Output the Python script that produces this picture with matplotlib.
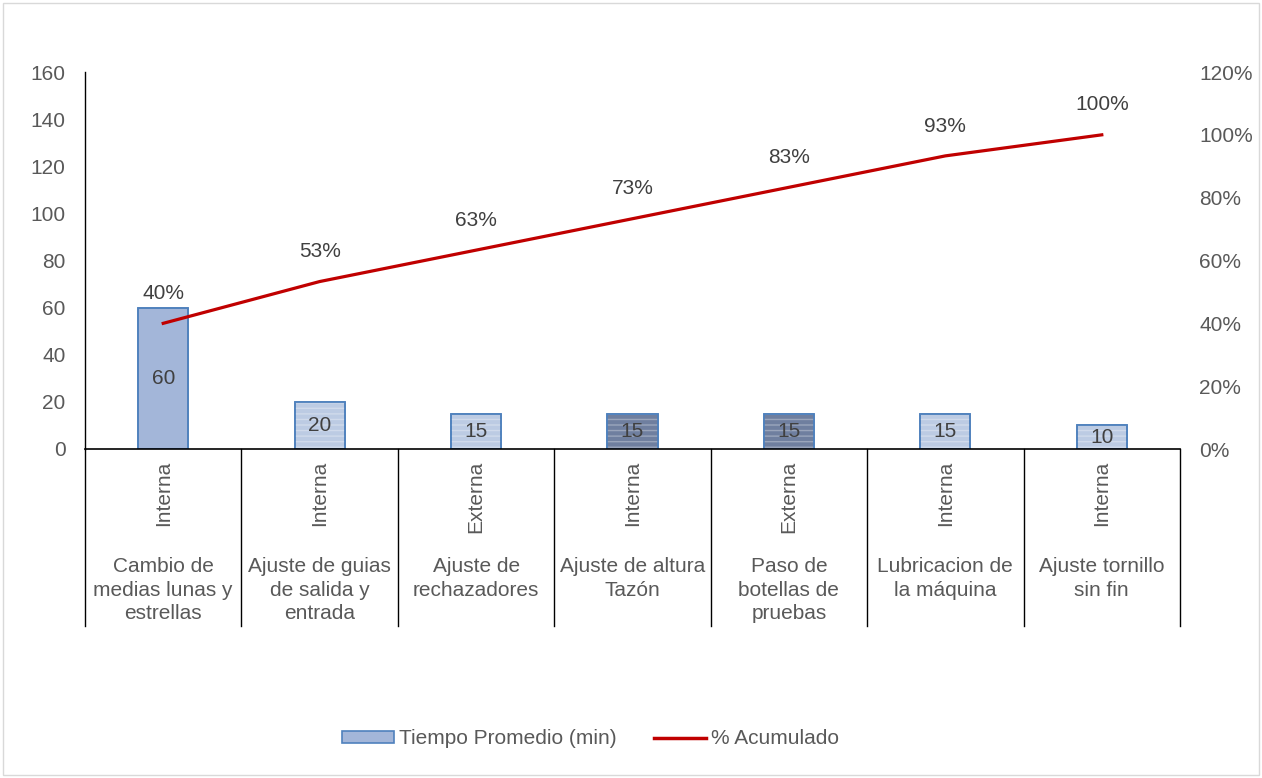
import matplotlib
matplotlib.use("Agg")
import matplotlib.pyplot as plt
from matplotlib.patches import Rectangle
from matplotlib.lines import Line2D
from matplotlib.ticker import FuncFormatter, MultipleLocator

plt.rcParams['font.family'] = ['Liberation Sans', 'DejaVu Sans']

# Data
actividades = [
    "Cambio de\nmedias lunas y\nestrellas",
    "Ajuste de guias\nde salida y\nentrada",
    "Ajuste de\nrechazadores",
    "Ajuste de altura\nTazón",
    "Paso de\nbotellas de\npruebas",
    "Lubricacion de\nla máquina",
    "Ajuste tornillo\nsin fin",
]
tipo = ["Interna", "Interna", "Externa", "Interna", "Externa", "Interna", "Interna"]
tiempo_min = [60, 20, 15, 15, 15, 15, 10]
pct_acumulado = [40.0, 53.3, 63.3, 73.3, 83.3, 93.3, 100.0]
pct_etiquetas = ["40%", "53%", "63%", "73%", "83%", "93%", "100%"]

bar_colors = ["#a3b6d9", "#bccbe3", "#bccbe3", "#6f7f9f", "#6f7f9f", "#bccbe3", "#bccbe3"]
band_hatch = ["", "---", "---", "---", "---", "---", "---"]
edge_color = "#4f81bd"
line_color = "#c00000"
text_color = "#404040"
tick_color = "#595959"
FS = 15

fig = plt.figure(figsize=(12.62, 7.78), dpi=100)
ax = fig.add_axes([85 / 1262, 1 - 449 / 778, (1180 - 85) / 1262, (449 - 72) / 778])

x = list(range(len(tiempo_min)))
ax.bar(x, tiempo_min, width=0.32, color=bar_colors, edgecolor=edge_color,
       linewidth=1.2, zorder=2)
# subtle horizontal banding on the bars
bands = ax.bar(x, tiempo_min, width=0.32, facecolor="none", edgecolor=(1, 1, 1, 0.3),
               linewidth=0, zorder=2.5)
for b, h in zip(bands, band_hatch):
    b.set_hatch(h)
ax.bar(x, tiempo_min, width=0.32, facecolor="none", edgecolor=edge_color,
       linewidth=1.2, zorder=3)

for xi, v in zip(x, tiempo_min):
    ax.text(xi, v / 2, f"{v}", ha="center", va="center", fontsize=FS,
            color=text_color, zorder=4)

ax.set_xlim(-0.5, len(x) - 0.5)
ax.set_ylim(0, 160)
ax.yaxis.set_major_locator(MultipleLocator(20))
ax.tick_params(axis="y", length=0, labelsize=FS, labelcolor=tick_color, pad=14)
ax.set_xticks([])
for s in ["top", "right", "bottom"]:
    ax.spines[s].set_visible(False)
ax.spines["left"].set_color("#000000")
ax.spines["left"].set_linewidth(1.0)

ax2 = ax.twinx()
ax2.set_position(ax.get_position())
ax2.plot(x, pct_acumulado, color=line_color, linewidth=2.3, zorder=5)
ax2.set_ylim(0, 120)
ax2.yaxis.set_major_locator(MultipleLocator(20))
ax2.yaxis.set_major_formatter(FuncFormatter(lambda v, p: f"{v:.0f}%"))
ax2.tick_params(axis="y", length=0, labelsize=FS, labelcolor=tick_color, pad=14)
for s in ["top", "right", "bottom", "left"]:
    ax2.spines[s].set_visible(False)

for xi, p, lab in zip(x, pct_acumulado, pct_etiquetas):
    ax2.annotate(lab, (xi, p), xytext=(0, 21.5), textcoords="offset points",
                 ha="center", va="center", fontsize=FS, color=text_color)

# two-level category axis
trans = ax.transAxes
ax.plot([0, 1], [0, 0], transform=trans, color="#000000", linewidth=1.2, clip_on=False, zorder=6)
n = len(x)
div_bottom = -(626 - 449) / 377
for i in range(n + 1):
    ax.plot([i / n, i / n], [0, div_bottom], transform=trans, color="#000000",
            linewidth=1.0, clip_on=False)
for i in range(n):
    cx = (i + 0.5) / n
    ax.text(cx, -(461 - 449) / 377, tipo[i], rotation=90, ha="center", va="top",
            transform=trans, fontsize=FS, color=tick_color)
    ax.text(cx, -(557 - 449) / 377, actividades[i], ha="center", va="top",
            transform=trans, fontsize=FS, color=tick_color, linespacing=1.3)

# legend
handles = [
    Rectangle((0, 0), 1, 1, facecolor="#a3b6d9", edgecolor=edge_color, linewidth=1.2),
    Line2D([0], [0], color=line_color, linewidth=2.5),
]
fig.legend(handles, ["Tiempo Promedio (min)", "% Acumulado"], loc="center",
           bbox_to_anchor=(0.468, 1 - 739 / 778), ncol=2, frameon=False,
           fontsize=FS, labelcolor=tick_color, handlelength=2.5, handleheight=0.55,
           columnspacing=1.8, handletextpad=0.25)

# chart border
fig.patches.append(Rectangle((3 / 1262, 3 / 778), 1 - 6 / 1262, 1 - 6 / 778,
                             transform=fig.transFigure, fill=False,
                             edgecolor="#d9d9d9", linewidth=1.0))

fig.savefig("out.png", dpi=100, facecolor="white")
